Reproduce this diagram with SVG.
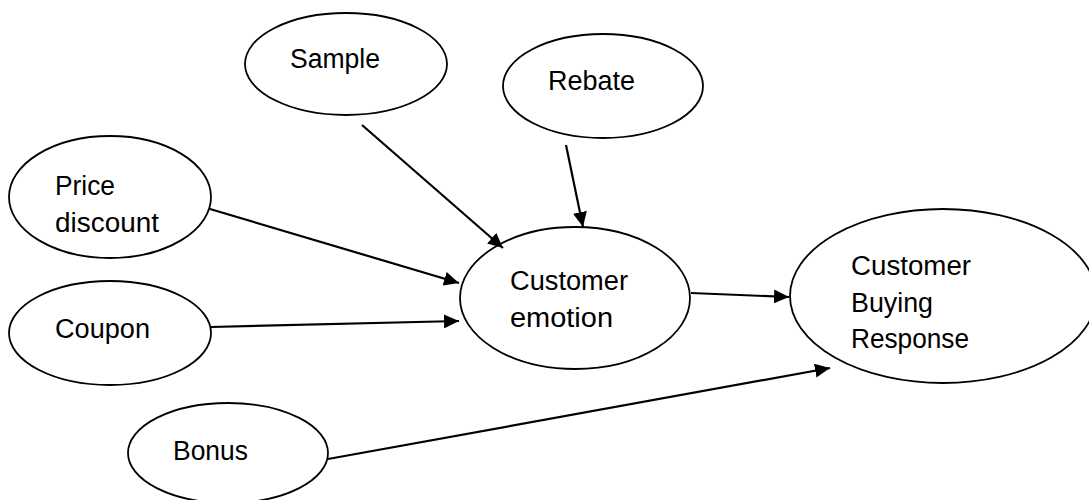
<svg xmlns="http://www.w3.org/2000/svg" width="1089" height="500" viewBox="0 0 1089 500">
<style>
.node ellipse{fill:#fff;stroke:#000;stroke-width:1.8}
.node text{font-family:"Liberation Sans",Arial,sans-serif;font-size:27px;fill:#000}
.edge{stroke:#000;stroke-width:2.2;fill:none;marker-end:url(#ah)}
</style>
<defs>
<marker id="ah" markerUnits="userSpaceOnUse" markerWidth="16" markerHeight="14" refX="15" refY="7" orient="auto">
<path d="M0,0 L15,7 L0,14 z" fill="#000"/>
</marker>
</defs>
<rect width="1089" height="500" fill="#fff"/>
<g id="sample" class="node"><ellipse cx="346" cy="64" rx="101" ry="51"/><text x="290" y="68" textLength="90" lengthAdjust="spacingAndGlyphs">Sample</text></g>
<g id="rebate" class="node"><ellipse cx="603" cy="86" rx="100" ry="52"/><text x="548" y="90" textLength="87" lengthAdjust="spacingAndGlyphs">Rebate</text></g>
<g id="price" class="node"><ellipse cx="110" cy="197" rx="101" ry="61"/><text x="55" y="195" textLength="60" lengthAdjust="spacingAndGlyphs">Price</text><text x="55" y="232" textLength="104" lengthAdjust="spacingAndGlyphs">discount</text></g>
<g id="coupon" class="node"><ellipse cx="110" cy="333" rx="101" ry="52"/><text x="55" y="338" textLength="95" lengthAdjust="spacingAndGlyphs">Coupon</text></g>
<g id="emotion" class="node"><ellipse cx="575" cy="298" rx="115" ry="71"/><text x="510" y="290" textLength="118" lengthAdjust="spacingAndGlyphs">Customer</text><text x="510" y="327" textLength="103" lengthAdjust="spacingAndGlyphs">emotion</text></g>
<g id="response" class="node"><ellipse cx="943" cy="296" rx="153" ry="87"/><text x="851" y="275" textLength="120" lengthAdjust="spacingAndGlyphs">Customer</text><text x="851" y="312" textLength="82" lengthAdjust="spacingAndGlyphs">Buying</text><text x="851" y="348" textLength="118" lengthAdjust="spacingAndGlyphs">Response</text></g>
<g id="bonus" class="node"><ellipse cx="228" cy="453" rx="100" ry="50"/><text x="173" y="460" textLength="75" lengthAdjust="spacingAndGlyphs">Bonus</text></g>
<g id="connectors">
<line class="edge" x1="362" y1="125" x2="503" y2="248"/>
<line class="edge" x1="566" y1="145" x2="583" y2="227"/>
<line class="edge" x1="210" y1="209" x2="459" y2="283"/>
<line class="edge" x1="211" y1="327" x2="459" y2="321"/>
<line class="edge" x1="691" y1="293" x2="789" y2="297"/>
<line class="edge" x1="328" y1="459" x2="830" y2="368"/>
</g>
</svg>
